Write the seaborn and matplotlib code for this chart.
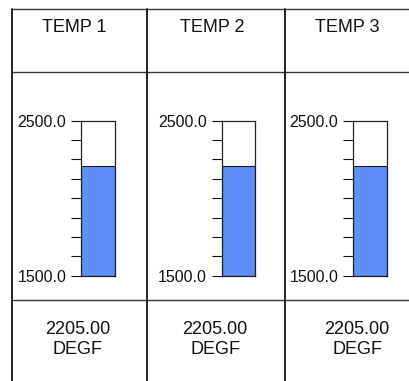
import matplotlib
matplotlib.use("Agg")
import matplotlib.pyplot as plt
from matplotlib.lines import Line2D
import numpy as np
import pandas as pd
import seaborn as sns

# Gauge data
channels = ["TEMP 1", "TEMP 2", "TEMP 3"]
readings = [2205.0, 2205.0, 2205.0]
units = ["DEGF", "DEGF", "DEGF"]
scale_min = 1500.0
scale_max = 2500.0
n_ticks = 9

sns.set_style("white")
plt.rcParams["font.family"] = ["Liberation Sans", "DejaVu Sans"]

W, H = 409, 381
fig = plt.figure(figsize=(W / 100, H / 100), dpi=100)
fig.patch.set_facecolor("white")


def fx(px):
    return px / W


def fy(py):
    return 1 - py / H


# Panel frame lines (pixel positions)
frame_left = 12
dividers_x = [12, 147, 285]
rows_y = [8.5, 72, 300]
for y in rows_y:
    fig.add_artist(Line2D([fx(frame_left), 1], [fy(y), fy(y)],
                          color="#3a3a3a", lw=1.0, transform=fig.transFigure))
for x in dividers_x:
    fig.add_artist(Line2D([fx(x), fx(x)], [fy(rows_y[0]), 0],
                          color="#111111", lw=1.3, transform=fig.transFigure))

# Gauge geometry per panel
bar_left = [81, 221.7, 353.3]
bar_w = 33.5
bar_top, bar_bot = 120.7, 275.7
head_cx = [74, 212, 347.5]
val_cx = [78, 215, 357]

for i, (name, val, unit) in enumerate(zip(channels, readings, units)):
    ax = fig.add_axes([fx(bar_left[i]), fy(bar_bot), bar_w / W, (bar_bot - bar_top) / H])
    df = pd.DataFrame({"ch": [name], "val": [val - scale_min]})
    sns.barplot(data=df, x="ch", y="val", bottom=scale_min, width=1.0,
                color="#5f8ef8", saturation=1, edgecolor="#1a1a1a",
                linewidth=0.8, ax=ax)
    ax.set_xlim(-0.5, 0.5)
    ax.set_ylim(scale_min, scale_max)
    ticks = np.linspace(scale_min, scale_max, n_ticks)
    ax.set_yticks(ticks)
    ax.set_yticklabels([f"{t:.1f}" if t in (scale_min, scale_max) else "" for t in ticks])
    ax.set_xticks([])
    ax.set_xlabel("")
    ax.set_ylabel("")
    ax.tick_params(axis="y", direction="out", length=7.2, width=0.8, pad=3.5,
                   labelsize=11.5, colors="#111111", left=True)
    for s in ax.spines.values():
        s.set_visible(True)
        s.set_color("#222222")
        s.set_linewidth(0.9)

    fig.text(fx(head_cx[i]), fy(28), name, ha="center", va="center",
             fontsize=13, color="#111111")
    fig.text(fx(val_cx[i]), fy(339.5), f"{val:.2f}\n{unit}", ha="center",
             va="center", fontsize=13, color="#111111", linespacing=1.25)

fig.savefig("out.png", dpi=100, facecolor="white")
